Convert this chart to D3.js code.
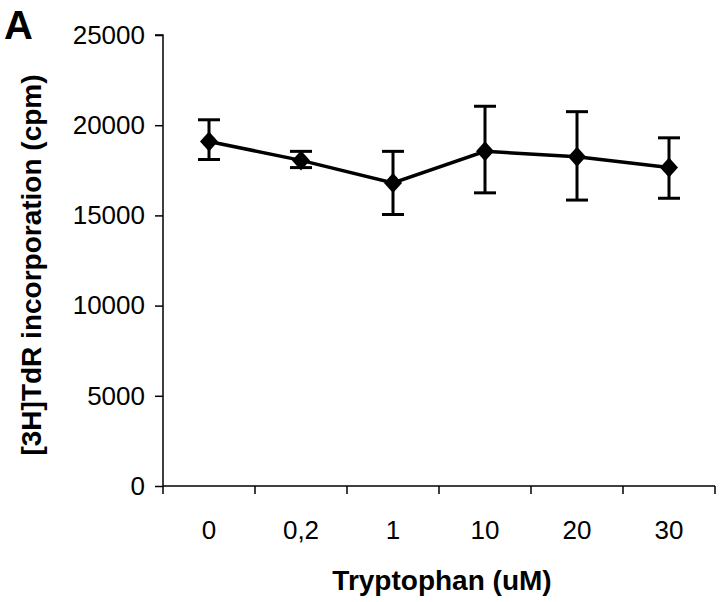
<!DOCTYPE html>
<html><head><meta charset="utf-8">
<script src="https://cdn.jsdelivr.net/npm/d3@7"></script>
<style>body{margin:0;background:#fff}svg{display:block}</style>
</head><body>
<svg id="c" width="720" height="602"></svg>
<script>
const categories = ["0","0,2","1","10","20","30"];
const values = [19100, 18050, 16800, 18550, 18250, 17650];
const errUpper = [20300, 18550, 18550, 21050, 20750, 19300];
const errLower = [18100, 17650, 15050, 16250, 15850, 15950];
const yTicks = [0,5000,10000,15000,20000,25000];

const svg = d3.select("#c");
const m = {l:163, r:715, t:35, b:486};
const x = d3.scaleBand().domain(categories).range([m.l, m.r]);
const y = d3.scaleLinear().domain([0,25000]).range([m.b, m.t]);
const font = "'Liberation Sans', Arial, sans-serif";

const ya = svg.append("g").attr("transform",`translate(${m.l},0)`)
  .call(d3.axisLeft(y).tickValues(yTicks).tickSize(8).tickPadding(10).tickFormat(d3.format("d")));
ya.selectAll("text").attr("font-family",font).attr("font-size",26).attr("fill","#000");
ya.selectAll("line,path").attr("stroke","#000").attr("stroke-width",1.5);
ya.select(".domain").attr("d",`M-8,${m.t}H0V${m.b}`);

const xa = svg.append("g").attr("transform",`translate(0,${m.b})`)
  .call(d3.axisBottom(x).tickSize(0).tickPadding(0));
xa.selectAll(".tick line").remove();
xa.selectAll("text").attr("font-family",font).attr("font-size",26).attr("fill","#000").attr("dy",null).attr("y",53);
xa.select(".domain").attr("stroke","#000").attr("stroke-width",1.5).attr("d",`M${m.l},0H${m.r}`);
// tick marks between categories
const bounds = categories.map(c=>x(c)).concat([m.r]);
svg.append("g").selectAll("line").data(bounds).join("line")
  .attr("x1",d=>d).attr("x2",d=>d).attr("y1",m.b).attr("y2",m.b+8)
  .attr("stroke","#000").attr("stroke-width",1.5);

const cx = c => x(c) + x.bandwidth()/2;
// error bars
const eb = svg.append("g").attr("stroke","#000").attr("stroke-width",3);
categories.forEach((c,i)=>{
  eb.append("line").attr("x1",cx(c)).attr("x2",cx(c)).attr("y1",y(errLower[i])).attr("y2",y(errUpper[i]));
  [errLower[i],errUpper[i]].forEach(v=>eb.append("line").attr("x1",cx(c)-11).attr("x2",cx(c)+11).attr("y1",y(v)).attr("y2",y(v)));
});
// line
svg.append("path").datum(values).attr("fill","none").attr("stroke","#000").attr("stroke-width",3.5)
  .attr("d",d3.line().x((d,i)=>cx(categories[i])).y(d=>y(d)));
// markers
svg.append("g").selectAll("path").data(values).join("path")
  .attr("transform",(d,i)=>`translate(${cx(categories[i])},${y(d)})`)
  .attr("d","M0,-10L9,0L0,10L-9,0Z").attr("fill","#000");

svg.append("text").attr("x",442).attr("y",590).attr("text-anchor","middle")
  .attr("font-family",font).attr("font-weight","bold").attr("font-size",28).text("Tryptophan (uM)");
svg.append("text").attr("transform",`translate(41,265) rotate(-90)`).attr("text-anchor","middle")
  .attr("font-family",font).attr("font-weight","bold").attr("font-size",28).text("[3H]TdR incorporation (cpm)");
svg.append("text").attr("x",4).attr("y",39)
  .attr("font-family",font).attr("font-weight","bold").attr("font-size",40).text("A");
</script>
</body></html>
